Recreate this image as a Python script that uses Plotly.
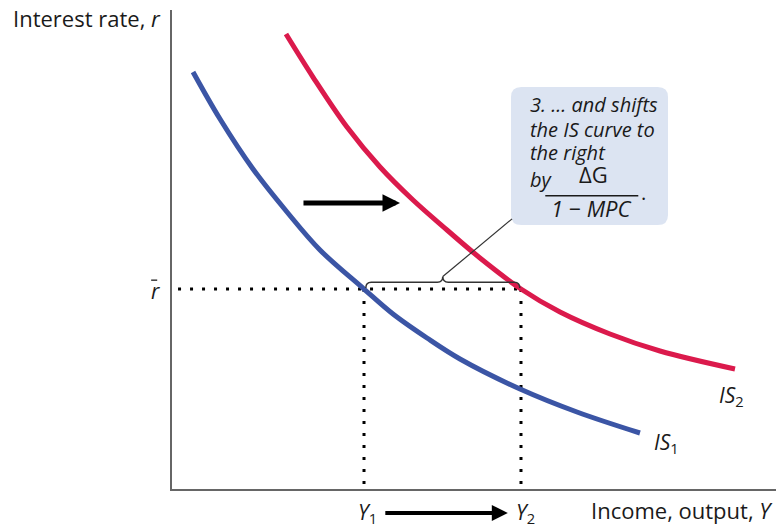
import plotly.graph_objects as go

# ---- data (abstract units: income 0-100, interest rate 0-100) ----
is1_x = [3.48, 7.95, 13.41, 19.04, 24.50, 31.79, 36.59, 42.22, 47.68, 57.62, 67.05, 77.48]
is1_y = [87.06, 77.24, 66.81, 57.83, 49.90, 41.75, 36.53, 31.52, 27.14, 20.88, 16.08, 11.69]
is2_x = [18.87, 23.34, 28.97, 34.44, 39.90, 45.53, 50.99, 57.78, 64.24, 72.52, 80.79, 93.21]
is2_y = [94.99, 86.01, 75.57, 67.22, 60.33, 54.07, 48.23, 41.75, 36.95, 32.36, 28.81, 25.05]
r_bar = 41.75
y1 = 31.79
y2 = 57.78

BLUE = "#3B55A5"
RED = "#DB1A4C"
FONT = "Open Sans"
TXT = "#1a1a1a"
DOT = dict(color="black", width=3, dash="3px,9px")

fig = go.Figure()

# dotted guide lines
fig.add_trace(go.Scatter(x=[1.0, y2], y=[r_bar, r_bar], mode="lines", line=DOT,
                         hoverinfo="skip", showlegend=False))
for xv in (y1, y2):
    fig.add_trace(go.Scatter(x=[xv, xv], y=[r_bar, 0.5], mode="lines", line=DOT,
                             hoverinfo="skip", showlegend=False))

fig.add_trace(go.Scatter(x=is1_x, y=is1_y, mode="lines",
                         line=dict(color=BLUE, width=5, shape="spline"),
                         showlegend=False))
fig.add_trace(go.Scatter(x=is2_x, y=is2_y, mode="lines",
                         line=dict(color=RED, width=5, shape="spline"),
                         showlegend=False))

shapes = []
# brace between Y1 and Y2 above r-bar
bx1, bx2 = y1 + 0.3, y2 - 0.2
bm = (bx1 + bx2) / 2
yb, yt, ytip = r_bar + 0.2, r_bar + 1.4, r_bar + 2.6
d = 0.9
brace = (f"M {bx1},{yb} Q {bx1},{yt} {bx1+d},{yt} L {bm-d},{yt} "
         f"Q {bm},{yt} {bm},{ytip} Q {bm},{yt} {bm+d},{yt} "
         f"L {bx2-d},{yt} Q {bx2},{yt} {bx2},{yb}")
shapes.append(dict(type="path", path=brace, xref="x", yref="y",
                   line=dict(color="#333", width=1.5)))
# connector line from brace to box
shapes.append(dict(type="line", xref="x", yref="y", x0=bm, y0=ytip,
                   x1=56.3, y1=56.4, line=dict(color="#333", width=1.2)))
# rounded callout box
x0b, x1b, y0b, y1b = 56.13, 82.12, 55.12, 83.92
rx, ry = 1.7, 2.1
box = (f"M {x0b+rx},{y1b} L {x1b-rx},{y1b} Q {x1b},{y1b} {x1b},{y1b-ry} "
       f"L {x1b},{y0b+ry} Q {x1b},{y0b} {x1b-rx},{y0b} L {x0b+rx},{y0b} "
       f"Q {x0b},{y0b} {x0b},{y0b+ry} L {x0b},{y1b-ry} Q {x0b},{y1b} {x0b+rx},{y1b} Z")
shapes.append(dict(type="path", path=box, xref="x", yref="y",
                   fillcolor="#DCE4F2", line=dict(width=0), layer="below"))
# fraction bar
shapes.append(dict(type="line", xref="x", yref="y", x0=61.8, x1=77.2,
                   y0=61.2, y1=61.2, line=dict(color=TXT, width=1.5)))
# r-bar overline
shapes.append(dict(type="line", xref="paper", yref="y", x0=-0.0345, x1=-0.0245,
                   y0=43.6, y1=43.6, line=dict(color=TXT, width=1.3)))

ann = []
fl = dict(family=FONT, size=22, color=TXT)
fb = dict(family=FONT, size=20, color=TXT)
ff = dict(family=FONT, size=22, color=TXT)
fi = dict(family=FONT, size=21, color=TXT)


def note(text, x, y, font, xanchor="left", xref="x", yref="y"):
    ann.append(dict(text=text, x=x, y=y, xref=xref, yref=yref, xanchor=xanchor,
                    yanchor="middle", showarrow=False, font=font))


note("<i>3. ... and shifts</i>", 58.9, 80.3, fb)
note("<i>the IS curve to</i>", 58.9, 75.1, fb)
note("<i>the right</i>", 58.9, 70.2, fb)
note("<i>by</i>", 58.9, 64.7, fb)
note("ΔG", 69.8, 65.7, ff, xanchor="center")
note("<i>1 − MPC</i>", 69.5, 58.7, ff, xanchor="center")
note(".", 77.3, 62.0, fb)

# shift arrow
ann.append(dict(x=37.75, y=59.71, ax=21.52, ay=59.71, xref="x", yref="y",
                axref="x", ayref="y", text="", showarrow=True, arrowhead=2,
                arrowwidth=5, arrowsize=0.7, arrowcolor="black"))
# bottom Y1 -> Y2 arrow
ann.append(dict(x=55.6, y=-0.050, xref="x", yref="paper", ax=-124, ay=0,
                text="", showarrow=True, arrowhead=2, arrowwidth=4,
                arrowsize=0.8, arrowcolor="black"))

# axis labels
note("Interest rate, <i>r</i>", -0.267, 0.983, fl, xref="paper", yref="paper")
note("Income, output, <i>Y</i>", 0.998, -0.044, fl, xanchor="right",
     xref="paper", yref="paper")
note("<i>r</i>", -0.028, 41.3, fi, xanchor="center", xref="paper")
note("<i>Y</i><sub>1</sub>", y1 + 0.6, -0.050, fi, xanchor="center", yref="paper")
note("<i>Y</i><sub>2</sub>", y2 + 0.8, -0.050, fi, xanchor="center", yref="paper")
note("<i>IS</i><sub>2</sub>", 90.2, 19.4, fi)
note("<i>IS</i><sub>1</sub>", 79.4, 9.6, fi)

fig.update_layout(
    width=776, height=531,
    margin=dict(l=172, r=0, t=10, b=42),
    plot_bgcolor="white", paper_bgcolor="white",
    shapes=shapes, annotations=ann,
    xaxis=dict(range=[0, 100], showgrid=False, zeroline=False, showticklabels=False,
               ticks="", showline=True, linecolor="#666", linewidth=2),
    yaxis=dict(range=[0, 100], showgrid=False, zeroline=False, showticklabels=False,
               ticks="", showline=True, linecolor="#666", linewidth=2),
    showlegend=False,
)

# remove the default page margin so the figure fills the window exactly
fig.write_html("out.html",
               config={"displayModeBar": False},
               post_script="document.body.style.margin='0';"
                           "document.body.style.overflow='hidden';")
